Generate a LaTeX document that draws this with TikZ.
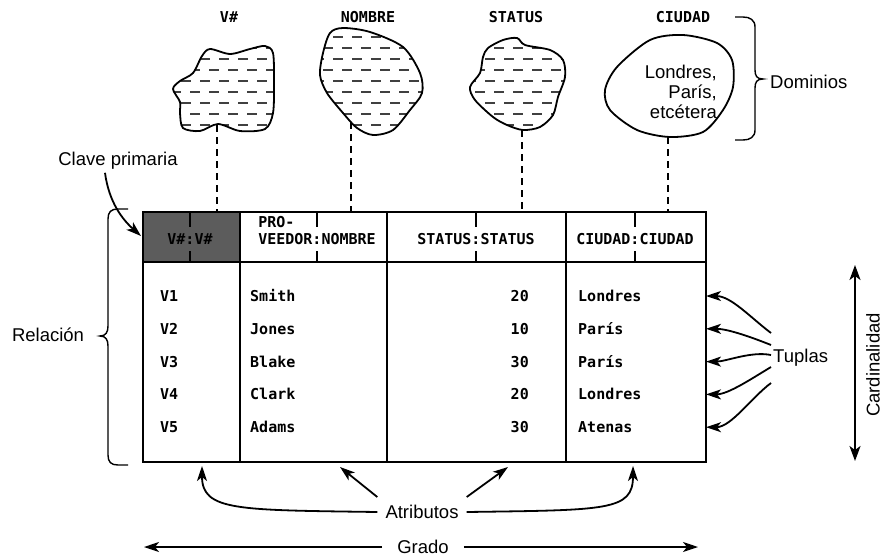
\documentclass[tikz,border=0pt]{standalone}
\usepackage{fontspec}
\setmainfont{Liberation Sans}
\setmonofont{DejaVu Sans Mono}
\usepackage{tikz}
\usetikzlibrary{arrows.meta}
\definecolor{keygray}{rgb}{0.36,0.36,0.36}
\definecolor{hatchgray}{rgb}{0.25,0.25,0.25}

\begin{document}
\begin{tikzpicture}[
  x=1pt, y=-1pt,
  words/.style={font={\fontsize{18.5}{20}\selectfont}, inner sep=3pt},
  mono/.style={font={\fontsize{15}{17}\selectfont\ttfamily\bfseries},
    inner sep=0pt, text height=11pt, text depth=0pt},
  rule/.style={line width=1.4pt},
  link/.style={line width=1.3pt, dash pattern=on 7pt off 5pt},
  hatch/.style={line width=2.2pt, hatchgray, dash pattern=on 10pt off 9pt},
  % The hatching is clipped to the outline by path picture.
  blob/.style={line width=1.8pt,
    path picture={
      \foreach \yy [count=\ii, evaluate=\ii as \ph using {mod(\ii,2)*9}]
          in {37,48,...,136} {
        \draw[hatch, dash phase=\ph pt] (0,\yy) -- (885,\yy);
      }}},
  plainblob/.style={line width=1.8pt},
  pointer/.style={line width=1.8pt,
    -{Stealth[length=15pt, width=10pt, inset=4pt]}},
  bothways/.style={line width=1.8pt,
    {Stealth[length=15pt, width=11pt, inset=4pt]}-{Stealth[length=15pt, width=11pt, inset=4pt]}},
  ]
  \path[use as bounding box, fill=white] (0,0) rectangle (885,557);

  % Domains
  \draw[blob] plot[smooth cycle] coordinates {(210,49) (230,54) (250,49)
    (265,46) (273,53) (274,83) (273,113) (265,129) (240,131) (218,124)
    (200,131) (183,128) (180,113) (180,102) (173,89) (180,81) (193,73)
    (202,56)};
  \draw[blob] plot[smooth cycle] coordinates {(330,33) (343,28) (370,32)
    (403,47) (420,73) (422,93) (410,110) (393,130) (373,135) (357,128)
    (343,113) (327,93) (320,75) (323,53)};
  \draw[blob] plot[smooth cycle] coordinates {(488,48) (503,40) (517,38)
    (525,45) (550,50) (563,60) (565,77) (558,97) (553,115) (540,127)
    (523,130) (507,125) (493,117) (475,100) (470,87) (480,73) (483,57)};
  \draw[plainblob] plot[smooth cycle] coordinates {(650,40) (683,35)
    (717,43) (732,60) (733,87) (723,110) (703,132) (670,137) (637,130)
    (610,110) (605,90) (617,67)};
  \node[words, align=right, anchor=east] (citylist) at (720,92)
    {Londres,\\París,\\etcétera};

  \node[mono] (dvnum) at (229,17) {V\#};
  \node[mono] (dname) at (368,17) {NOMBRE};
  \node[mono] (dstatus) at (516,17) {STATUS};
  \node[mono] (dcity) at (683,17) {CIUDAD};

  \foreach \xx/\yy in {217/125, 351/122, 522/130, 668/137}
    \draw[link] (\xx,\yy) -- (\xx,212);

  % Dominios brace
  \draw[rule] (735,17) -- (743,17) .. controls (750,17) and (755,20) ..
    (755,27) -- (755,70) .. controls (755,76) and (757,79) .. (763,79)
    .. controls (757,79) and (755,82) .. (755,88) -- (755,130)
    .. controls (755,137) and (750,140) .. (743,140) -- (735,140);
  \node[words, anchor=west] (dominios) at (767,82) {Dominios};

  % Relation
  \fill[keygray] (143,212) rectangle (240,262);
  \draw[rule] (143,212) rectangle (706,462);
  \draw[rule] (143,262) -- (706,262);
  \foreach \xx in {240,387,566}
    \draw[rule] (\xx,212) -- (\xx,462);
  \foreach \xx in {190,317,476,635} {
    \draw[line width=1.2pt] (\xx,212) -- (\xx,227);
    \draw[line width=1.2pt] (\xx,251) -- (\xx,262);
  }

  \node[mono] (hkey) at (190,239) {V\#:V\#};
  \node[mono] (hsup) at (317,239) {VEEDOR:NOMBRE};
  \node[mono, anchor=west] (hpro) at (hsup.west |- 0,222) {PRO-};
  \node[mono] (hstatus) at (476,239) {STATUS:STATUS};
  \node[mono] (hcity) at (635,239) {CIUDAD:CIUDAD};

  \foreach \vv/\nn/\ss/\cc [count=\rr, evaluate=\rr as \yy using {263.2+32.8*\rr}]
      in {V1/Smith/20/Londres, V2/Jones/10/París, V3/Blake/30/París,
          V4/Clark/20/Londres, V5/Adams/30/Atenas} {
    \node[mono, anchor=west] (v\rr) at (160,\yy) {\vv};
    \node[mono, anchor=west] (n\rr) at (250,\yy) {\nn};
    \node[mono, anchor=east] (s\rr) at (529,\yy) {\ss};
    \node[mono, anchor=west] (c\rr) at (578,\yy) {\cc};
    \coordinate (row\rr) at (706,\yy);
  }

  % Relacion brace
  \draw[rule] (128,209) -- (118,209) .. controls (111,209) and (108,212) ..
    (108,219) -- (108,326) .. controls (108,332) and (106,336) .. (100,336)
    .. controls (106,336) and (108,340) .. (108,346) -- (108,455)
    .. controls (108,462) and (111,465) .. (118,465) -- (128,465);
  \node[words] (relacion) at (48,335) {Relación};

  % Primary key
  \node[words] (clave) at (118,161) {Clave primaria};
  \coordinate (keyedge) at (141,236);
  \draw[pointer] ([xshift=-13pt]clave.south) .. controls +(4,30) and +(-18,-16) .. (keyedge);

  % Tuples
  \node[words, anchor=west, inner sep=2pt] (tuplas) at (771,358) {Tuplas};
  \draw[pointer] ([yshift=25pt]tuplas.west) .. controls +(-20,-15) and +(25,0) .. (row1);
  \draw[pointer] ([yshift=13pt]tuplas.west) .. controls +(-25,-10) and +(20,0) .. (row2);
  \draw[pointer] ([yshift=3pt]tuplas.west) .. controls +(-20,-4) and +(20,0) .. (row3);
  \draw[pointer] ([yshift=-9pt]tuplas.west) .. controls +(-20,12) and +(22,0) .. (row4);
  \draw[pointer] ([yshift=-25pt]tuplas.west) .. controls +(-20,15) and +(25,0) .. (row5);

  % Cardinality
  \coordinate (cardtop) at (855,265);
  \coordinate (cardbot) at (855,461);
  \draw[bothways] (cardtop) -- (cardbot);
  \node[words, rotate=90] (cardinalidad) at (873,365) {Cardinalidad};

  % Attributes
  \node[words, inner sep=8pt] (atributos) at (422,512) {Atributos};
  \coordinate (att1) at (202,466);
  \coordinate (att2) at (340,467);
  \coordinate (att3) at (508,467);
  \coordinate (att4) at (633,466);
  \draw[pointer] (atributos.west) .. controls +(-140,-2) and +(0,45) .. (att1);
  \draw[pointer] (atributos.north west) -- (att2);
  \draw[pointer] (atributos.north east) -- (att3);
  \draw[pointer] (atributos.east) .. controls +(140,-2) and +(0,45) .. (att4);

  % Degree
  \node[words, inner xsep=15pt] (grado) at (423,547) {Grado};
  \coordinate (gradoL) at (144,547);
  \coordinate (gradoR) at (698,547);
  \draw[pointer] (grado.west) -- (gradoL);
  \draw[pointer] (grado.east) -- (gradoR);
\end{tikzpicture}
\end{document}
